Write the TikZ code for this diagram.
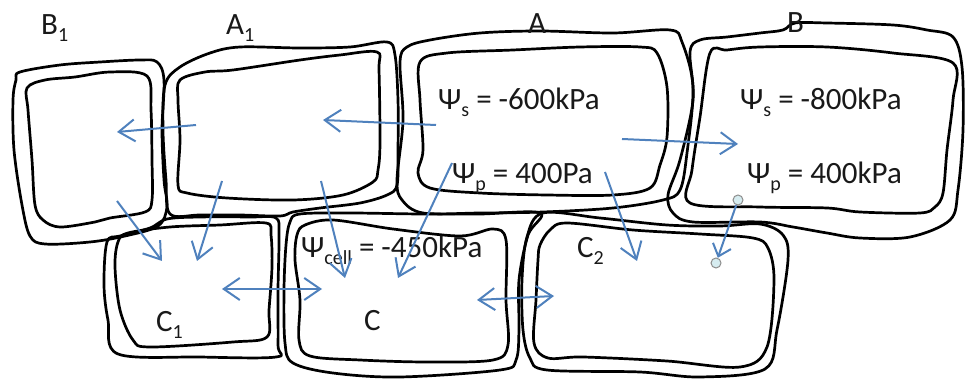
\documentclass[tikz,border=0pt]{standalone}
\usepackage{fontspec}
\setmainfont{Carlito}
\usetikzlibrary{arrows.meta}
\definecolor{flow}{RGB}{79,129,189}
\definecolor{pinfill}{RGB}{214,236,240}
\newcommand\lowsub[1]{\raisebox{-0.2em}{\fontsize{20}{20}\selectfont #1}}
\begin{document}
\begin{tikzpicture}[x=1pt,y=-1pt,
  wall/.style={line width=2.7pt, line join=round, line cap=round},
  flowarrow/.style={draw=flow, line width=2pt, -{Straight Barb[length=16pt,width=22pt]}},
  twoway/.style={draw=flow, line width=2pt, {Straight Barb[length=16pt,width=22pt]}-{Straight Barb[length=16pt,width=22pt]}},
  lbl/.style={font=\fontsize{31}{34}\selectfont, text=black!90, inner sep=0pt, anchor=base west},
  pinball/.style={circle, draw=black!45, fill=pinfill, minimum size=10pt, inner sep=0pt, line width=1pt}]
\useasboundingbox (0,0) rectangle (967,379);

% ---- cell walls: outer wall and inner membrane of each cell ----
% B1
\draw[wall] plot[smooth cycle, tension=0.55] coordinates {(20,72) (60,65) (100,62) (140,60) (157,62) (164,80) (162,130) (164,180) (167,207) (158,226) (125,236) (90,242) (45,244) (30,236) (22,205) (14,150) (13,100) (16,80)};
\draw[wall] plot[smooth cycle, tension=0.55] coordinates {(27,88) (45,80) (75,77) (110,72) (147,76) (151,110) (152,160) (152,200) (145,212) (110,218) (95,222) (60,227) (43,220) (35,205) (32,160) (28,110)};
% A1
\draw[wall] plot[smooth cycle, tension=0.55] coordinates {(165,85) (180,67) (210,53) (240,47) (300,48) (350,47) (387,42) (395,55) (398,100) (398,150) (397,185) (387,195) (360,203) (320,208) (293,212) (280,216) (240,215) (200,215) (170,214) (166,180) (163,130)};
\draw[wall] plot[smooth cycle, tension=0.55] coordinates {(180,80) (205,72) (233,70) (300,60) (340,55) (377,52) (379,70) (380,143) (378,170) (373,182) (343,195) (293,200) (227,198) (187,193) (178,185) (180,140) (178,100)};
% A
\draw[wall] plot[smooth cycle, tension=0.55] coordinates {(407,47) (430,40) (480,33) (540,31) (613,33) (670,30) (682,42) (693,87) (687,153) (680,190) (663,200) (613,208) (543,212) (480,213) (423,213) (402,200) (397,180) (403,120) (400,62)};
\draw[wall] plot[smooth cycle, tension=0.55] coordinates {(420,62) (447,53) (513,50) (580,47) (640,47) (657,53) (667,87) (667,137) (660,165) (650,188) (613,195) (547,195) (480,193) (430,188) (418,173) (423,150) (420,100)};
% B
\draw[wall] plot[smooth cycle, tension=0.55] coordinates {(690,52) (700,40) (727,37) (760,33) (783,30) (795,23) (827,23) (893,25) (927,30) (953,37) (962,67) (963,130) (958,190) (950,220) (910,237) (860,238) (827,233) (793,227) (760,222) (693,222) (673,213) (668,195) (680,160) (693,100)};
\draw[wall] plot[smooth cycle, tension=0.55] coordinates {(710,53) (727,50) (760,47) (827,47) (893,53) (953,63) (953,100) (947,150) (943,193) (935,207) (920,213) (860,212) (827,208) (760,207) (690,203) (692,170) (700,117)};
% C1
\draw[wall] plot[smooth cycle, tension=0.55] coordinates {(107,242) (120,236) (150,228) (167,219) (200,217) (250,217) (276,218) (279,235) (278,290) (278,345) (276,357) (200,357) (118,354) (108,320) (104,285)};
\draw[wall] plot[smooth cycle, tension=0.55] coordinates {(118,242) (128,233) (170,227) (220,225) (266,223) (271,235) (272,267) (269,310) (267,337) (233,342) (150,347) (133,340) (120,310) (115,267)};
% C
\draw[wall] plot[smooth cycle, tension=0.55] coordinates {(290,222) (300,214) (350,213) (420,214) (480,214) (540,213) (528,235) (519,280) (519,330) (516,360) (500,370) (400,377) (333,373) (293,363) (285,343) (284,290) (286,245)};
\draw[wall] plot[smooth cycle, tension=0.55] coordinates {(297,235) (305,225) (333,220) (393,229) (460,236) (493,229) (506,240) (506,300) (508,345) (493,360) (427,362) (360,360) (310,356) (299,340) (300,300) (295,260)};
% C2
\draw[wall] plot[smooth cycle, tension=0.55] coordinates {(543,213) (527,237) (522,280) (523,330) (530,358) (547,370) (640,372) (700,377) (765,369) (777,330) (788,260) (783,235) (760,224) (720,226) (667,225) (600,218)};
\draw[wall] plot[smooth cycle, tension=0.55] coordinates {(540,245) (550,230) (567,223) (633,230) (700,234) (753,238) (768,248) (774,280) (767,347) (740,367) (667,361) (583,357) (548,358) (534,343) (536,300) (538,260)};

% ---- labels ----
\node[lbl] (tB1) at (41,35) {B\lowsub{1}};
\node[lbl] (tA1) at (226,35) {A\lowsub{1}};
\node[lbl] (tA) at (528,34) {A};
\node[lbl] (tB) at (787,33) {B};
\node[lbl] (psA) at (438,110) {Ψ\lowsub{s} = -600kPa};
\node[lbl] (ppA) at (452,184) {Ψ\lowsub{p} = 400Pa};
\node[lbl] (psB) at (740,110) {Ψ\lowsub{s} = -800kPa};
\node[lbl] (ppB) at (747,184) {Ψ\lowsub{p} = 400kPa};
\node[lbl] (pcC) at (301,258) {Ψ\lowsub{cell} = -450kPa};
\node[lbl] (tC1) at (156,332) {C\lowsub{1}};
\node[lbl] (tC) at (364,331) {C};
\node[lbl] (tC2) at (577,258) {C\lowsub{2}};

% ---- ends of the water-flow arrows ----
\coordinate (a1s) at (196,125);  \coordinate (b1e) at (117,132);
\coordinate (as)  at (436,125);  \coordinate (a1e) at (323,120);
\coordinate (ar)  at (622,139);  \coordinate (be)  at (738,144);
\coordinate (b1s) at (117,201);  \coordinate (c1a) at (162,261);
\coordinate (a1d) at (222,181);  \coordinate (c1b) at (197,261);
\coordinate (c1r) at (222,289);  \coordinate (cl)  at (322,289);
\coordinate (a1c) at (321,181);  \coordinate (ca)  at (345,278);
\coordinate (ac)  at (452,163);  \coordinate (cb)  at (398,278);
\coordinate (cr)  at (477,300);  \coordinate (c2l) at (554,296);
\coordinate (ad)  at (605,172);  \coordinate (c2a) at (637,261);
\node[pinball] (pinB) at (738,200) {};
\node[pinball] (pinC2) at (716,263) {};

% ---- water-flow arrows ----
\draw[flowarrow] (a1s) -- (b1e);
\draw[flowarrow] (as) -- (a1e);
\draw[flowarrow] (ar) -- (be);
\draw[flowarrow] (b1s) -- (c1a);
\draw[flowarrow] (a1d) -- (c1b);
\draw[twoway] (c1r) -- (cl);
\draw[flowarrow] (a1c) -- (ca);
\draw[flowarrow] (ac) -- (cb);
\draw[twoway] (cr) -- (c2l);
\draw[flowarrow] (ad) -- (c2a);
\draw[draw=flow, line width=2pt, -{Straight Barb[length=11pt,width=19pt]}] (pinB) -- (pinC2);
\end{tikzpicture}
\end{document}
